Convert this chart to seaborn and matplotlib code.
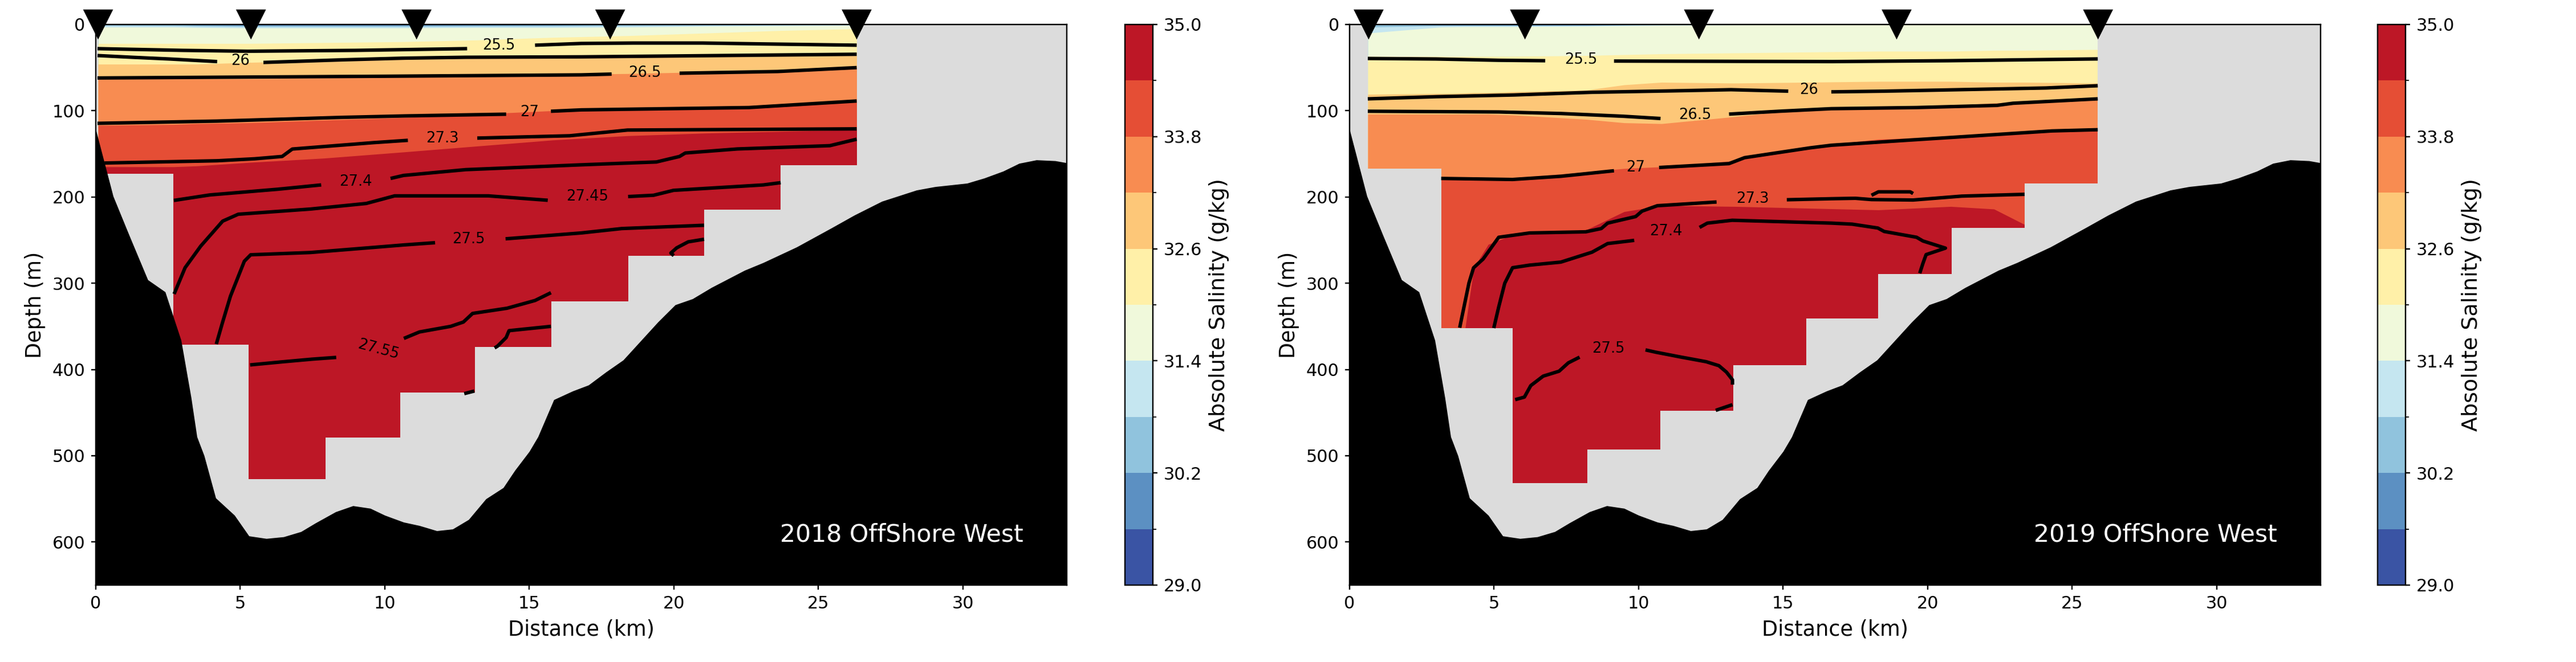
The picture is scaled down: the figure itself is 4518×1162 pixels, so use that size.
"""
Salinity / density sections, OffShore West line, 2018 vs 2019.
"""

import numpy as np
import matplotlib
matplotlib.use("Agg")
import matplotlib.pyplot as plt
from matplotlib.colors import ListedColormap, BoundaryNorm
from matplotlib.cm import ScalarMappable
import seaborn as sns

# ---------------------------------------------------------------- data
sal_levels = [29.0, 29.6, 30.2, 30.8, 31.4, 32.0, 32.6, 33.2, 33.8, 34.4, 35.0]
cbar_ticks = [29.0, 30.2, 31.4, 32.6, 33.8, 35.0]
x_ticks = [0, 5, 10, 15, 20, 25, 30]
y_ticks = [0, 100, 200, 300, 400, 500, 600]

# bottom profile (km, m), same line for both years
bathy_km = [0, 0.6, 1.15, 1.8, 2.4, 2.95, 3.3, 3.5, 3.75, 4.15, 4.8, 5.3, 5.9, 6.5,
            7.1, 7.6, 8.3, 8.9, 9.5, 10.0, 10.65, 11.2, 11.8, 12.35, 12.9, 13.5,
            14.1, 14.5, 15.0, 15.3, 15.85, 16.5, 17.05, 17.65, 18.25, 18.85, 19.45,
            20.05, 20.65, 21.3, 22.45, 23.1, 24.25, 25.45, 26.25, 27.2, 28.4, 29.05,
            30.15, 30.75, 31.4, 31.95, 32.55, 33.2, 33.7]
bathy_m = [122, 199, 244, 296, 310, 366, 433, 478, 500, 549, 569, 593, 596, 594,
           588, 578, 565, 558, 561, 569, 577, 581, 587, 585, 574, 550,
           537, 517, 495, 478, 435, 425, 418, 403, 389, 367, 345,
           325, 318, 305, 285, 276, 258, 236, 221, 205, 192, 188,
           184, 178, 170, 161, 157, 158, 161]

# CTD stations (km)
stations_2018 = [0.08, 5.37, 11.1, 17.8, 26.33]
stations_2019 = [0.66, 6.07, 12.09, 18.93, 25.9]

# gridded columns: edges (km) and deepest valid depth (m) per column
col_edges_2018 = [0.08, 2.68, 5.29, 7.95, 10.54, 13.13, 15.77, 18.42, 21.05, 23.70, 26.33]
col_depth_2018 = [173, 371, 527, 479, 427, 374, 321, 268, 215, 163]
col_edges_2019 = [0.63, 3.17, 5.64, 8.22, 10.76, 13.28, 15.81, 18.28, 20.84, 23.36, 25.89]
col_depth_2019 = [167, 352, 532, 493, 448, 395, 341, 289, 236, 184]

# depth (m) of isohalines 30.2 ... 34.4 g/kg along the section
iso_x_2018 = [0.08, 2.7, 3.5, 5.3, 7.9, 10.6, 13.2, 15.8, 18.4, 21.1, 23.7, 26.33]
iso_2018_302 = [0, 0, 0.8, 1.2, 1.2, 1.2, 1.0, 0.8, 0, 0, 0, 0]
iso_2018_308 = [1.2, 1.5, 2, 2.5, 2.5, 2.5, 2.2, 2, 1.5, 1, 0.5, 0]
iso_2018_314 = [3, 3, 3.5, 4, 4, 4, 3.5, 3.5, 3, 2, 1.5, 1]
iso_2018_320 = [22, 22, 22, 22, 21, 20, 18, 15, 13, 10, 7, 5]
iso_2018_326 = [46, 46, 46, 44, 42, 40, 39, 38, 37, 36, 36, 36]
iso_2018_332 = [63, 63, 63, 63, 62, 61, 60, 58, 57, 55, 53, 51]
iso_2018_338 = [117, 116, 115, 114, 111, 108, 104, 100, 98, 96, 93, 90]
iso_2018_344 = [165, 165, 164, 160, 155, 148, 141, 134, 129, 126, 124, 122]

iso_x_2019 = [0.63, 3.17, 4.0, 4.3, 4.8, 5.64, 8.2, 9.5, 10.8, 13.3, 15.8, 18.3,
              20.8, 22.3, 23.36, 25.89]
iso_2019_302 = [0, 0.8, 0.8, 0.8, 0.8, 0.8, 0.8, 0.4, 0, 0, 0, 0, 0, 0, 0, 0]
iso_2019_308 = [3, 1.5, 1.5, 1.5, 1.5, 1.5, 1.2, 0.8, 0.4, 0, 0, 0, 0, 0, 0, 0]
iso_2019_314 = [10, 3, 2.5, 2.5, 2.5, 2.5, 2, 1.5, 1, 0.5, 0, 0, 0, 0, 0, 0]
iso_2019_320 = [37, 37, 37, 37, 37, 37, 36, 35, 34, 33, 32, 31, 31, 30, 30, 29]
iso_2019_326 = [81, 80, 79.5, 79, 79, 78, 76, 70, 67, 68, 67, 66, 66, 67, 67, 68]
iso_2019_332 = [104, 104, 104, 104, 104, 105, 110, 114, 115, 107, 98, 96, 94, 91, 90, 87.5]
iso_2019_338 = [178, 178, 178, 178, 178, 178, 171, 167, 165, 158, 142, 133, 130, 126, 124, 122]
iso_2019_344 = [400, 400, 352, 282, 255, 244, 238, 217, 210, 211, 213, 215, 211, 214, 232, 240]

# potential density (sigma) contours: level -> segments of (km, m)
sigma_2018 = {
    "25.5": [([0.06, 3.0, 5.25, 9.0, 12.85], [28, 30, 31, 30, 28]),
             ([15.2, 16.8, 18.6, 21.0, 23.0, 26.33], [24, 22, 21.5, 21.5, 22.5, 24])],
    "26": [([0.06, 1.25, 2.55, 4.2], [36, 38, 40, 43]),
           ([5.8, 8.5, 10.7, 12.8, 16.8, 20.0, 26.33], [44, 41, 39, 38, 37.5, 36.5, 34.5])],
    "26.5": [([0.06, 5.0, 10.0, 16.8, 17.85], [62, 61, 60, 58.4, 57.5]),
             ([20.2, 23.6, 26.33], [56.5, 54.5, 50])],
    "27": [([0.06, 4.2, 8.5, 10.7, 14.2], [114.6, 112, 107.7, 106, 104]),
           ([15.75, 16.8, 22.6, 26.33], [100.6, 99, 96.3, 88.7])],
    "27.3": [([0.3, 4.2, 5.5, 6.45, 6.8, 9.6, 10.8],
              [160.6, 158, 155.7, 153, 144.4, 137, 134.3]),
             ([13.2, 16.4, 18.4, 26.33], [131.7, 129, 122.4, 121])],
    "27.4": [([2.7, 3.95, 6.3, 7.8], [204, 197.6, 191, 186]),
             ([10.2, 10.65, 12.8, 16.8, 19.4, 20.2, 20.4, 22.2, 25.4, 26.33],
              [178.5, 175, 168.3, 162.7, 159.4, 153, 149, 144.3, 140.5, 133])],
    "27.45": [([2.71, 3.09, 3.63, 4.39, 4.93, 7.42, 9.36, 10.34, 13.58, 15.64],
               [312.5, 282, 257, 228, 220, 214, 207.5, 198.7, 198.7, 203.8]),
              ([18.42, 19.3, 19.99, 23.1, 23.7], [199.5, 198, 192.3, 186, 183.4])],
    "27.5": [([4.17, 4.39, 4.66, 5.14, 5.36, 7.42, 9.26, 10.66, 11.74],
              [370.6, 345, 315, 274.5, 267, 264.4, 259.4, 255.6, 253]),
             ([14.18, 16.8, 18.2, 21.05], [248.5, 241.7, 236.6, 232.8])],
    "27.55": [([21.05, 20.5, 20.1, 19.9, 20.0], [249, 252, 259, 265, 268]),
              ([15.75, 15.2, 14.23, 13.04, 12.72, 12.28, 11.2, 10.66],
               [311, 320, 329, 335, 345, 350, 356.5, 364]),
              ([8.32, 7.5, 6.5, 5.34], [386, 388, 391, 394.7]),
              ([15.75, 14.3, 14.2, 13.9, 13.8], [350, 355, 363, 373, 375]),
              ([12.75, 13.1], [428, 425])],
}
labels_2018 = [("25.5", 13.95, 24.5, 0), ("26", 5.0, 42, 0), ("26.5", 19.0, 56, 0),
               ("27", 15.0, 101.5, 0), ("27.3", 12.0, 132, 0), ("27.4", 9.0, 182, 0),
               ("27.45", 17.0, 199.5, 0), ("27.5", 12.9, 249, 0),
               ("27.55", 9.77, 377, -15)]

sigma_2019 = {
    "25.5": [([0.63, 3.0, 5.16, 6.77], [39.4, 40, 41.5, 42]),
             ([9.15, 16.7, 20.7, 25.89], [42.4, 43, 42, 39.9])],
    "26": [([0.63, 3.0, 5.7, 8.4, 11.1, 13.2, 15.18], [86.2, 83.7, 81.7, 78.6, 77, 75.6, 77.3]),
           ([16.67, 18.5, 24.1, 25.89], [78.1, 77.3, 73.6, 71])],
    "26.5": [([0.63, 5.16, 7.31, 9.47, 10.76], [100.6, 101.4, 103.2, 106.4, 109]),
             ([13.13, 14.86, 16.67, 19.62, 22.4, 22.96, 25.89],
              [103.9, 100.6, 97.6, 96.3, 93.8, 91.3, 86.2])],
    "27": [([3.17, 5.64, 7.31, 9.15], [178.5, 179.7, 176, 169.6]),
           ([10.71, 13.13, 13.67, 15.94, 16.67, 19.3, 21.07, 24.3, 25.89],
            [165.8, 161.3, 154.4, 143, 140, 134.2, 130.4, 123.4, 122])],
    "27.3": [([3.81, 4.13, 4.29, 4.62, 5.16, 6.23, 8.17, 8.71, 8.93, 9.9, 10.12, 10.65, 12.7],
              [351.6, 299.8, 282.1, 272, 246.7, 241.7, 240.4, 236.6, 230.3, 222.7, 216.4,
               210.1, 205.8]),
             ([15.13, 16.67, 17.5, 18.06, 19.5, 21.18, 23.36],
              [203.2, 202, 201.5, 203, 203.5, 199, 196.9]),
             ([18.06, 18.3, 19.4, 19.5], [198, 194, 194, 196])],
    "27.4": [([4.99, 5.16, 5.37, 5.64, 6.23, 7.31, 8.39, 8.93, 9.85],
              [352, 327.6, 300, 282, 279, 275.5, 264, 254, 250.3]),
             ([12.11, 12.38, 13.24, 16.67, 17.39, 18.28, 18.5, 19.62, 19.84, 20.62,
               19.95, 19.84, 19.73],
              [235.3, 230.3, 227, 230.3, 231.5, 236, 240, 246.7, 251, 259.3,
               266.8, 277, 288.4])],
    "27.5": [([5.73, 6.05, 6.27, 6.7, 7.25, 7.57, 7.96],
              [435, 432, 418.7, 407.7, 402, 392.3, 385.7]),
             ([10.24, 10.6, 11.48, 12.34, 12.78, 13.04, 13.25, 13.25],
              [377.3, 380, 385.7, 391, 395.6, 403, 412, 417.6]),
             ([12.67, 13.25], [447.4, 440.8])],
}
labels_2019 = [("25.5", 8.0, 40.7, 0), ("26", 15.9, 76, 0), ("26.5", 11.95, 105.2, 0),
               ("27", 9.9, 166, 0), ("27.3", 13.95, 202, 0), ("27.4", 10.95, 240, 0),
               ("27.5", 8.95, 376, 0)]

# ---------------------------------------------------------------- style
sns.set_style("ticks", {"axes.edgecolor": "k", "text.color": "k",
                        "xtick.color": "k", "ytick.color": "k",
                        "axes.labelcolor": "k"})
plt.rcParams["font.family"] = ["DejaVu Sans"]

GRAY = "#dcdcdc"
ZMAX = 650
XMAX = 33.6

levels = np.array(sal_levels)
mids = (levels[:-1] + levels[1:]) / 2
band_colors = plt.get_cmap("RdYlBu_r")((mids - levels[0]) / (levels[-1] - levels[0]))
cmap = ListedColormap(band_colors)
norm = BoundaryNorm(levels, cmap.N)


def draw_section(ax, iso_x, iso_depths, edges, depths, stations, sigma, labels, title):
    # salinity bands, painted top-down so each covers the one above it
    tops = [np.zeros(len(iso_x))] + [np.asarray(d, float) for d in iso_depths]
    for k, top in enumerate(tops):
        ax.fill_between(iso_x, top, ZMAX, color=band_colors[k + 1], lw=0, zorder=1)

    # no-data area above the bottom
    gx = np.r_[0, edges, XMAX]
    gz = np.r_[0, depths, 0, 0]
    ax.fill_between(gx, gz, ZMAX, step="post", color=GRAY, lw=0, zorder=2)

    # density contours
    for segs in sigma.values():
        for xs, zs in segs:
            ax.plot(xs, zs, color="k", lw=2.0, zorder=3, solid_capstyle="butt")
    for lab, lx, lz, rot in labels:
        ax.text(lx, lz, lab, fontsize=8.5, ha="center", va="center",
                rotation=rot, zorder=3)

    # bathymetry
    ax.fill_between(bathy_km, bathy_m, ZMAX, color="k", lw=0, zorder=4)

    # stations
    sns.scatterplot(x=stations, y=[0] * len(stations), marker="v", s=300,
                    color="k", edgecolor="none", linewidth=0, legend=False,
                    ax=ax, clip_on=False, zorder=6)

    ax.text(0.955, 0.09, title, color="w", fontsize=14, ha="right", va="center",
            transform=ax.transAxes, zorder=7)

    ax.set_xlim(0, XMAX)
    ax.set_ylim(ZMAX, 0)
    ax.set_xticks(x_ticks)
    ax.set_yticks(y_ticks)
    ax.set_xlabel("Distance (km)", fontsize=12)
    ax.set_ylabel("Depth (m)", fontsize=12)
    ax.tick_params(labelsize=10, length=2.5, width=0.8)
    for sp in ax.spines.values():
        sp.set_linewidth(0.8)


def add_cbar(fig, rect):
    cax = fig.add_axes(rect)
    cb = fig.colorbar(ScalarMappable(norm=norm, cmap=cmap), cax=cax,
                      ticks=cbar_ticks, format="%.1f")
    cb.set_label("Absolute Salinity (g/kg)", fontsize=12.5)
    cb.ax.tick_params(labelsize=10, length=2.5, width=0.8)
    cb.outline.set_linewidth(0.8)
    return cb


W, H = 4518, 1162
DPI = 219
fig = plt.figure(figsize=(W / DPI, H / DPI), dpi=DPI)

bottom = (H - 1027) / H
height = 984 / H
ax1 = fig.add_axes([168 / W, bottom, 1703 / W, height])
ax2 = fig.add_axes([2367 / W, bottom, 1703 / W, height])

draw_section(ax1, iso_x_2018,
             [iso_2018_302, iso_2018_308, iso_2018_314, iso_2018_320,
              iso_2018_326, iso_2018_332, iso_2018_338, iso_2018_344],
             col_edges_2018, col_depth_2018, stations_2018,
             sigma_2018, labels_2018, "2018 OffShore West")
draw_section(ax2, iso_x_2019,
             [iso_2019_302, iso_2019_308, iso_2019_314, iso_2019_320,
              iso_2019_326, iso_2019_332, iso_2019_338, iso_2019_344],
             col_edges_2019, col_depth_2019, stations_2019,
             sigma_2019, labels_2019, "2019 OffShore West")

add_cbar(fig, [1973 / W, bottom, 49 / W, height])
add_cbar(fig, [4170 / W, bottom, 49 / W, height])

fig.savefig("out.png", dpi=DPI)
plt.close(fig)
